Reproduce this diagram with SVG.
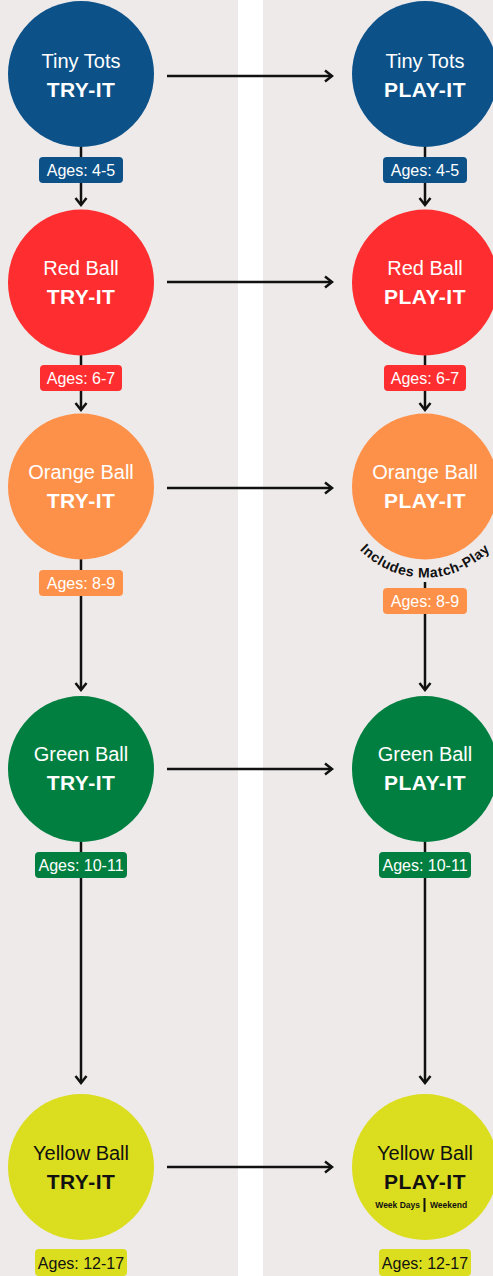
<svg xmlns="http://www.w3.org/2000/svg" width="493" height="1276" viewBox="0 0 493 1276">
<defs>
<marker id="arr" viewBox="-10 -8 12 16" refX="0" refY="0" markerWidth="12" markerHeight="16" markerUnits="userSpaceOnUse" orient="auto">
<path d="M-7,-5.5 L0,0 L-7,5.5" fill="none" stroke="#111" stroke-width="2.5" stroke-linejoin="miter"/>
</marker>
<path id="arcText" d="M346.1,532 A91,91 0 0,0 503.9,532"/>
</defs>
<style>
.c{stroke:none}
.t1{font-family:"Liberation Sans",Arial,sans-serif;font-size:20px;text-anchor:middle;fill:#fff}
.t2{font-family:"Liberation Sans",Arial,sans-serif;font-size:21px;font-weight:bold;text-anchor:middle;fill:#fff;letter-spacing:0.5px}
.lb{font-family:"Liberation Sans",Arial,sans-serif;font-size:16px;text-anchor:middle;fill:#fff}
.dk{fill:#111}
.ln{stroke:#111;stroke-width:2.5;fill:none;marker-end:url(#arr)}
.blue{fill:#0C5289}.red{fill:#FE2E30}.orange{fill:#FE9149}.green{fill:#017F40}.yellow{fill:#DBDD1F}
</style>
<rect x="0" y="0" width="493" height="1276" fill="#EEEAEA"/>
<rect x="238" y="0" width="25" height="1276" fill="#FFFFFF"/>

<g id="connectors">
<line class="ln" x1="81" y1="147" x2="81" y2="205"/>
<line class="ln" x1="81" y1="355" x2="81" y2="410"/>
<line class="ln" x1="81" y1="559" x2="81" y2="690"/>
<line class="ln" x1="81" y1="842" x2="81" y2="1083"/>
<line class="ln" x1="425" y1="147" x2="425" y2="205"/>
<line class="ln" x1="425" y1="355" x2="425" y2="410"/>
<line class="ln" x1="425" y1="582" x2="425" y2="690"/>
<line class="ln" x1="425" y1="842" x2="425" y2="1083"/>
<line class="ln" x1="167" y1="76" x2="332" y2="76"/>
<line class="ln" x1="167" y1="282" x2="332" y2="282"/>
<line class="ln" x1="167" y1="488" x2="332" y2="488"/>
<line class="ln" x1="167" y1="769" x2="332" y2="769"/>
<line class="ln" x1="167" y1="1167" x2="332" y2="1167"/>
</g>

<g id="tiny-try">
<circle class="blue" cx="81" cy="74" r="73"/>
<text class="t1" x="81" y="68">Tiny Tots</text>
<text class="t2" x="81" y="97">TRY-IT</text>
<rect class="blue" x="39" y="157" width="84" height="26" rx="4"/>
<text class="lb" x="81" y="176">Ages: 4-5</text>
</g>
<g id="tiny-play">
<circle class="blue" cx="425" cy="74" r="73"/>
<text class="t1" x="425" y="68">Tiny Tots</text>
<text class="t2" x="425" y="97">PLAY-IT</text>
<rect class="blue" x="383" y="157" width="84" height="26" rx="4"/>
<text class="lb" x="425" y="176">Ages: 4-5</text>
</g>

<g id="red-try">
<circle class="red" cx="81" cy="282.5" r="73"/>
<text class="t1" x="81" y="275">Red Ball</text>
<text class="t2" x="81" y="304">TRY-IT</text>
<rect class="red" x="40" y="365" width="82" height="26" rx="4"/>
<text class="lb" x="81" y="384">Ages: 6-7</text>
</g>
<g id="red-play">
<circle class="red" cx="425" cy="282.5" r="73"/>
<text class="t1" x="425" y="275">Red Ball</text>
<text class="t2" x="425" y="304">PLAY-IT</text>
<rect class="red" x="384" y="365" width="82" height="26" rx="4"/>
<text class="lb" x="425" y="384">Ages: 6-7</text>
</g>

<g id="orange-try">
<circle class="orange" cx="81" cy="486.5" r="73"/>
<text class="t1" x="81" y="479">Orange Ball</text>
<text class="t2" x="81" y="508">TRY-IT</text>
<rect class="orange" x="39" y="570" width="84" height="26" rx="4"/>
<text class="lb" x="81" y="589">Ages: 8-9</text>
</g>
<g id="orange-play">
<circle class="orange" cx="425" cy="486.5" r="73"/>
<text class="t1" x="425" y="479">Orange Ball</text>
<text class="t2" x="425" y="508">PLAY-IT</text>
<text font-family="Liberation Sans, Arial, sans-serif" font-size="14" font-weight="bold" fill="#111" letter-spacing="0.6"><textPath href="#arcText" startOffset="50%" text-anchor="middle">Includes Match-Play</textPath></text>
<rect class="orange" x="383" y="588" width="84" height="26" rx="4"/>
<text class="lb" x="425" y="607">Ages: 8-9</text>
</g>

<g id="green-try">
<circle class="green" cx="81" cy="769" r="73"/>
<text class="t1" x="81" y="761">Green Ball</text>
<text class="t2" x="81" y="790">TRY-IT</text>
<rect class="green" x="35" y="852" width="92" height="26" rx="4"/>
<text class="lb" x="81" y="871">Ages: 10-11</text>
</g>
<g id="green-play">
<circle class="green" cx="425" cy="769" r="73"/>
<text class="t1" x="425" y="761">Green Ball</text>
<text class="t2" x="425" y="790">PLAY-IT</text>
<rect class="green" x="379" y="852" width="92" height="26" rx="4"/>
<text class="lb" x="425" y="871">Ages: 10-11</text>
</g>

<g id="yellow-try">
<circle class="yellow" cx="81" cy="1167" r="73"/>
<text class="t1 dk" x="81" y="1160">Yellow Ball</text>
<text class="t2 dk" x="81" y="1189">TRY-IT</text>
<rect class="yellow" x="35" y="1249" width="92" height="27" rx="4"/>
<text class="lb dk" x="81" y="1269">Ages: 12-17</text>
</g>
<g id="yellow-play">
<circle class="yellow" cx="425" cy="1167" r="73"/>
<text class="t1 dk" x="425" y="1160">Yellow Ball</text>
<text class="t2 dk" x="425" y="1189">PLAY-IT</text>
<text font-family="Liberation Sans, Arial, sans-serif" font-size="8.5" font-weight="bold" fill="#111" text-anchor="end" x="420" y="1208">Week Days</text>
<rect x="423.5" y="1198" width="2" height="14" fill="#111"/>
<text font-family="Liberation Sans, Arial, sans-serif" font-size="8.5" font-weight="bold" fill="#111" text-anchor="start" x="430" y="1208">Weekend</text>
<rect class="yellow" x="379" y="1249" width="92" height="27" rx="4"/>
<text class="lb dk" x="425" y="1269">Ages: 12-17</text>
</g>
</svg>
